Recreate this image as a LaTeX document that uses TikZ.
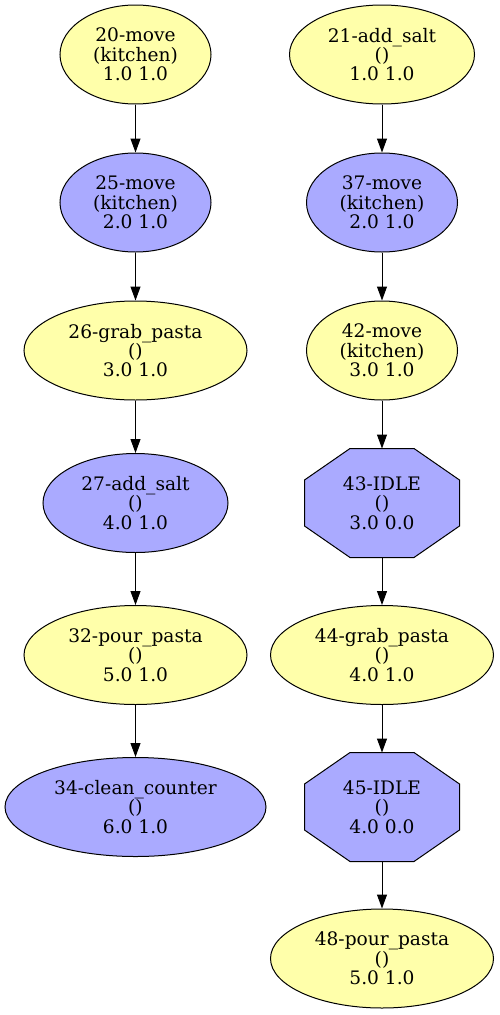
\documentclass[tikz,border=0pt]{standalone}
\usepackage{fontspec}
\setmainfont{DejaVu Serif}
\usetikzlibrary{shapes.geometric,arrows.meta,backgrounds}
\definecolor{yel}{HTML}{FFFFAA}
\definecolor{blu}{HTML}{AAAAFF}
\tikzset{
  base/.style={draw=black, line width=1pt, inner sep=0pt, align=center,
    font=\fontsize{18.6pt}{19.4pt}\selectfont},
  ell/.style={base, ellipse, minimum height=99pt},
  ynode/.style={ell, fill=yel},
  bnode/.style={ell, fill=blu},
  oct/.style={base, draw=none, rectangle, minimum width=154pt, minimum height=108pt},
  octfill/.style={draw=black, line width=1pt, fill=blu, line join=miter},
  edge/.style={draw=black, line width=1pt, -{Triangle[length=14pt,width=10pt]}}
}
\newcommand{\octagon}[1]{%
  \scoped[on background layer]\path[octfill]
    ([xshift=-32pt]#1.north) -- ([xshift=32pt]#1.north) --
    ([yshift=23pt]#1.east) -- ([yshift=-23pt]#1.east) --
    ([xshift=32pt]#1.south) -- ([xshift=-32pt]#1.south) --
    ([yshift=-23pt]#1.west) -- ([yshift=23pt]#1.west) -- cycle;}
\begin{document}
\begin{tikzpicture}[x=1pt,y=-1pt]
\useasboundingbox (0,0) rectangle (499,1015);
% left column
\node[ynode, minimum width=151pt] (n20) at (135.5,54.5) {20-move\\(kitchen)\\1.0 1.0};
\node[bnode, minimum width=151pt] (n25) at (135.5,202.5) {25-move\\(kitchen)\\2.0 1.0};
\node[ynode, minimum width=223pt] (n26) at (135.5,350.5) {26-grab\_pasta\\()\\3.0 1.0};
\node[bnode, minimum width=185pt] (n27) at (135.5,503) {27-add\_salt\\()\\4.0 1.0};
\node[ynode, minimum width=223pt] (n32) at (135.5,655) {32-pour\_pasta\\()\\5.0 1.0};
\node[bnode, minimum width=261pt] (n34) at (135.5,807) {34-clean\_counter\\()\\6.0 1.0};
% right column
\node[ynode, minimum width=185pt] (n21) at (382,54.5) {21-add\_salt\\()\\1.0 1.0};
\node[bnode, minimum width=151pt] (n37) at (382,202.5) {37-move\\(kitchen)\\2.0 1.0};
\node[ynode, minimum width=151pt] (n42) at (382,350.5) {42-move\\(kitchen)\\3.0 1.0};
\node[oct] (n43) at (382,503) {43-IDLE\\()\\3.0 0.0};
\octagon{n43}
\node[ynode, minimum width=223pt] (n44) at (382,655) {44-grab\_pasta\\()\\4.0 1.0};
\node[oct] (n45) at (382,807) {45-IDLE\\()\\4.0 0.0};
\octagon{n45}
\node[ynode, minimum width=223pt] (n48) at (382,958.5) {48-pour\_pasta\\()\\5.0 1.0};
% edges
\draw[edge] (n20) -- (n25);
\draw[edge] (n25) -- (n26);
\draw[edge] (n26) -- (n27);
\draw[edge] (n27) -- (n32);
\draw[edge] (n32) -- (n34);
\draw[edge] (n21) -- (n37);
\draw[edge] (n37) -- (n42);
\draw[edge] (n42) -- (n43);
\draw[edge] (n43) -- (n44);
\draw[edge] (n44) -- (n45);
\draw[edge] (n45) -- (n48);
\end{tikzpicture}
\end{document}
